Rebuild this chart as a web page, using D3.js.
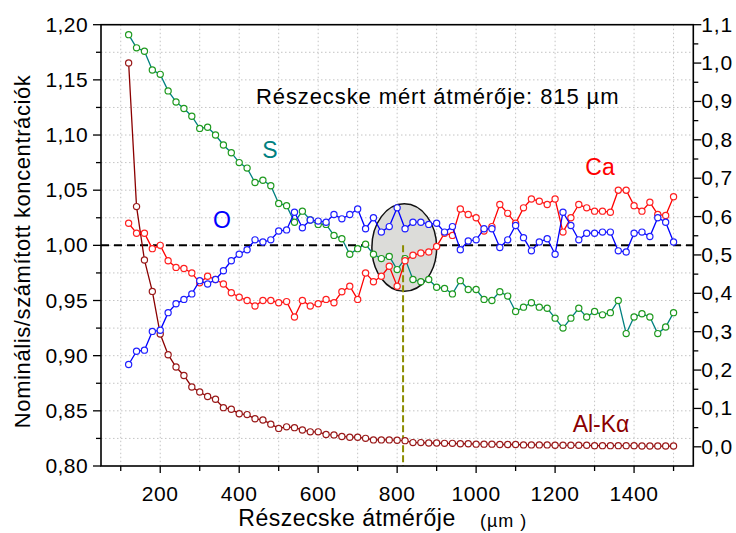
<!DOCTYPE html>
<html>
<head>
<meta charset="utf-8">
<script src="https://cdn.jsdelivr.net/npm/d3@7"></script>
<style>
  html, body { margin: 0; padding: 0; background: #fff; }
  svg { display: block; font-family: "Liberation Sans", Arial, sans-serif; }
</style>
</head>
<body>
<svg id="chart" width="736" height="533"></svg>
<script>
// Particle diameter (µm)
const diameters = [120,140,160,180,200,220,240,260,280,300,320,340,360,380,400,420,440,460,480,500,
  520,540,560,580,600,620,640,660,680,700,720,740,760,780,800,820,840,860,880,900,
  920,940,960,980,1000,1020,1040,1060,1080,1100,1120,1140,1160,1180,1200,1220,1240,1260,1280,1300,
  1320,1340,1360,1380,1400,1420,1440,1460,1480,1500];

// Nominal / calculated concentration ratios (left axis)
const sRatio = [1.191,1.179,1.176,1.159,1.155,1.140,1.130,1.124,1.117,1.106,1.107,1.100,1.091,1.084,1.075,1.070,1.057,1.059,1.054,1.038,
  1.036,1.021,1.031,1.023,1.019,1.019,1.009,1.006,0.992,0.997,1.001,0.992,0.988,0.990,0.978,0.988,0.969,0.967,0.969,0.962,
  0.961,0.956,0.968,0.960,0.960,0.951,0.950,0.958,0.954,0.940,0.944,0.948,0.944,0.943,0.934,0.925,0.934,0.943,0.935,0.940,
  0.937,0.939,0.950,0.920,0.935,0.938,0.935,0.920,0.926,0.939];
const oRatio = [0.892,0.904,0.905,0.922,0.923,0.939,0.947,0.951,0.956,0.968,0.965,0.969,0.977,0.986,0.992,0.996,1.005,1.003,1.005,1.013,
  1.014,1.030,1.016,1.023,1.022,1.021,1.028,1.024,1.028,1.033,1.015,1.025,1.012,1.017,1.034,1.015,1.021,1.021,1.019,1.020,
  1.012,1.017,0.996,1.004,1.005,1.015,1.015,0.998,1.005,1.018,1.007,0.995,1.003,1.006,0.992,1.030,1.018,1.005,1.011,1.011,
  1.012,1.012,0.995,0.994,1.011,1.012,1.008,1.025,1.021,1.003];
const caRatio = [1.020,1.011,1.011,0.997,1.000,0.986,0.980,0.979,0.975,0.966,0.972,0.969,0.965,0.957,0.953,0.950,0.945,0.950,0.950,0.948,
  0.949,0.935,0.950,0.945,0.947,0.951,0.948,0.958,0.963,0.951,0.975,0.967,0.972,0.981,0.963,0.986,0.991,0.993,0.994,0.999,
  1.011,1.009,1.033,1.028,1.025,1.013,1.017,1.037,1.029,1.020,1.034,1.042,1.040,1.037,1.042,1.012,1.025,1.037,1.034,1.031,
  1.031,1.030,1.050,1.050,1.036,1.031,1.039,1.028,1.027,1.044];

// Al-Kα intensity (right axis)
const alKa = [1.000,0.626,0.487,0.405,0.294,0.240,0.208,0.186,0.156,0.143,0.131,0.124,0.102,0.098,0.086,0.084,0.073,0.070,0.059,0.048,
  0.052,0.050,0.044,0.039,0.039,0.032,0.031,0.027,0.025,0.025,0.022,0.018,0.018,0.018,0.017,0.016,0.011,0.011,0.010,0.010,
  0.009,0.009,0.008,0.008,0.007,0.007,0.007,0.006,0.006,0.006,0.005,0.005,0.005,0.005,0.004,0.004,0.004,0.004,0.004,0.003,
  0.003,0.003,0.003,0.003,0.003,0.002,0.002,0.002,0.002,0.002];

// Axis tick values and labels
const xTicksMajor = [200,400,600,800,1000,1200,1400];
const xTicksMinor = [100,300,500,700,900,1100,1300,1500];
const yLeftTicks = [0.80,0.85,0.90,0.95,1.00,1.05,1.10,1.15,1.20];
const yRightTicks = [0.0,0.1,0.2,0.3,0.4,0.5,0.6,0.7,0.8,0.9,1.0,1.1];
const measuredDiameter = 815;

const svg = d3.select("#chart");
const L = 101, R = 693.3, T = 24.7, B = 466;

const x = d3.scaleLinear().domain([50, 1550]).range([L, R]);
const yL = d3.scaleLinear().domain([0.80, 1.20]).range([B, T]);
const yR = d3.scaleLinear().domain([-0.05, 1.10]).range([B, T]);

const comma = (d, p) => d.toFixed(p).replace(".", ",");

// dotted grid
const grid = svg.append("g").attr("stroke", "#c4c4c4").attr("stroke-width", 1)
  .attr("stroke-dasharray", "1.5,2.5");
d3.range(100, 1501, 100).forEach(v => {
  grid.append("line").attr("x1", x(v)).attr("x2", x(v)).attr("y1", T).attr("y2", B);
});
d3.range(0.825, 1.2, 0.025).forEach(v => {
  grid.append("line").attr("x1", L).attr("x2", R).attr("y1", yL(v)).attr("y2", yL(v));
});

// reference line at ratio 1
svg.append("line").attr("x1", L).attr("x2", R).attr("y1", yL(1)).attr("y2", yL(1))
  .attr("stroke", "#000").attr("stroke-width", 2).attr("stroke-dasharray", "8,5");

// highlighted region around the measured diameter
svg.append("ellipse")
  .attr("cx", x(818)).attr("cy", yL(0.998))
  .attr("rx", x(818 + 82) - x(818)).attr("ry", yL(0.998) - yL(0.998 + 0.0397))
  .attr("fill", "#dcdcd9").attr("stroke", "#111").attr("stroke-width", 1.5);

// vertical marker at the measured diameter
svg.append("line").attr("x1", x(measuredDiameter)).attr("x2", x(measuredDiameter))
  .attr("y1", yL(1)).attr("y2", B)
  .attr("stroke", "#8c8c00").attr("stroke-width", 2).attr("stroke-dasharray", "7,3");

// series
function drawSeries(values, yScale, lineColor, markerColor) {
  const pts = diameters.map((d, i) => [d, values[i]]);
  svg.append("path").datum(pts)
    .attr("fill", "none").attr("stroke", lineColor).attr("stroke-width", 1.3)
    .attr("d", d3.line().x(p => x(p[0])).y(p => yScale(p[1])));
  svg.append("g").selectAll("circle").data(pts).join("circle")
    .attr("cx", p => x(p[0])).attr("cy", p => yScale(p[1])).attr("r", 3.1)
    .attr("fill", "#fff").attr("stroke", markerColor).attr("stroke-width", 1.2);
}
drawSeries(alKa, yR, "#8b0000", "#9a1a1a");
drawSeries(sRatio, yL, "#008080", "#1f9a1f");
drawSeries(caRatio, yL, "#ff0000", "#ff2020");
drawSeries(oRatio, yL, "#0000ff", "#2020ff");

// frame
svg.append("rect").attr("x", L).attr("y", T).attr("width", R - L).attr("height", B - T)
  .attr("fill", "none").attr("stroke", "#000").attr("stroke-width", 1.6);

// axes
const ax = svg.append("g").attr("stroke", "#000").attr("stroke-width", 1.3);
xTicksMajor.forEach(v => ax.append("line").attr("x1", x(v)).attr("x2", x(v)).attr("y1", B).attr("y2", B + 7));
xTicksMinor.forEach(v => ax.append("line").attr("x1", x(v)).attr("x2", x(v)).attr("y1", B).attr("y2", B + 5));
d3.range(0.80, 1.201, 0.025).forEach((v, i) => {
  ax.append("line").attr("x1", L).attr("x2", L - (i % 2 === 0 ? 8 : 5)).attr("y1", yL(v)).attr("y2", yL(v));
});
d3.range(0, 1.101, 0.05).forEach((v, i) => {
  ax.append("line").attr("x1", R).attr("x2", R + (i % 2 === 0 ? 8 : 5)).attr("y1", yR(v)).attr("y2", yR(v));
});

const tickFont = 21;
svg.append("g").selectAll("text").data(xTicksMajor).join("text")
  .attr("x", d => x(d)).attr("y", B + 35).attr("text-anchor", "middle")
  .attr("font-size", tickFont).attr("letter-spacing", 0.6).text(d => d);
svg.append("g").selectAll("text").data(yLeftTicks).join("text")
  .attr("x", L - 13).attr("y", d => yL(d) + 7).attr("text-anchor", "end")
  .attr("font-size", tickFont).attr("letter-spacing", 0.4).text(d => comma(d, 2));
svg.append("g").selectAll("text").data(yRightTicks).join("text")
  .attr("x", R + 8).attr("y", d => yR(d) + 7).attr("text-anchor", "start")
  .attr("font-size", tickFont).attr("letter-spacing", 0.8).text(d => comma(d, 1));

// axis titles
svg.append("text").attr("transform", `translate(30,${(T + B) / 2 + 6}) rotate(-90)`)
  .attr("text-anchor", "middle").attr("font-size", 22).attr("letter-spacing", 0.6)
  .text("Nominális/számított koncentrációk");
svg.append("text").attr("x", 347).attr("y", 526).attr("text-anchor", "middle")
  .attr("font-size", 23).attr("letter-spacing", 0.5).text("Részecske átmérője");
svg.append("text").attr("x", 480).attr("y", 527).attr("font-size", 18)
  .attr("letter-spacing", 1).text("(µm )");

// annotations
svg.append("text").attr("x", 256).attr("y", 104).attr("font-size", 22).attr("letter-spacing", 0.9)
  .text("Részecske mért átmérője: 815 µm");
svg.append("text").attr("x", 270).attr("y", 158).attr("text-anchor", "middle")
  .attr("font-size", 23).attr("fill", "#008080").text("S");
svg.append("text").attr("x", 222).attr("y", 228).attr("text-anchor", "middle")
  .attr("font-size", 23).attr("fill", "#0000ff").text("O");
svg.append("text").attr("x", 600).attr("y", 175).attr("text-anchor", "middle")
  .attr("font-size", 23).attr("fill", "#ff0000").text("Ca");
svg.append("text").attr("x", 601).attr("y", 432).attr("text-anchor", "middle")
  .attr("font-size", 23).attr("fill", "#8b0000").text("Al-Kα");
</script>
</body>
</html>
